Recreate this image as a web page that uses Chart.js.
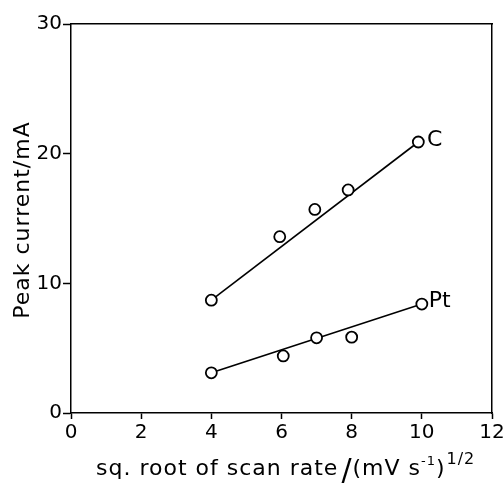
<!DOCTYPE html>
<html>
<head>
<meta charset="utf-8">
<script src="https://cdn.jsdelivr.net/npm/chart.js@4.4.0/dist/chart.umd.min.js"></script>
<style>
  html, body { margin: 0; padding: 0; background: #fff; }
  #wrap { width: 503px; height: 491px; }
</style>
</head>
<body>
<div id="wrap"><canvas id="peakChart" width="503" height="491"></canvas></div>
<script>
// measured points (x = sqrt scan rate, y = peak current / mA)
const cX = [4, 5.95, 6.95, 7.9, 9.9];
const cY = [8.7, 13.6, 15.7, 17.2, 20.9];
const ptX = [4, 6.05, 7, 8, 10];
const ptY = [3.1, 4.4, 5.8, 5.85, 8.4];

// straight-line fits as drawn
const cFitX = [4, 9.9];
const cFitY = [8.7, 20.9];
const ptFitX = [4, 10];
const ptFitY = [3.1, 8.4];

const xTicks = [0, 2, 4, 6, 8, 10, 12];
const yTicks = [0, 10, 20, 30];

const seriesLabels = [
    { text: 'C', x: 10.15, y: 21.0 },
    { text: 'Pt', x: 10.2, y: 8.6 }
];

const FONT = "'DejaVu Sans', sans-serif";

function toPoints(xs, ys) {
    return xs.map((x, i) => ({ x: x, y: ys[i] }));
}

const markerStyle = {
    showLine: false,
    pointStyle: 'circle',
    pointRadius: 5.5,
    pointBorderWidth: 1.8,
    pointBorderColor: '#000',
    pointBackgroundColor: '#fff'
};

const lineStyle = {
    showLine: true,
    borderColor: '#000',
    borderWidth: 1.6,
    pointRadius: 0,
    fill: false
};

// series names, axis titles (with superscripts)
const annotate = {
    id: 'annotate',
    afterDraw(chart) {
        const c = chart.ctx;
        const xs = chart.scales.x, ys = chart.scales.y;
        c.save();
        c.fillStyle = '#000';
        c.font = '22px ' + FONT;
        c.textBaseline = 'middle';
        c.textAlign = 'left';
        seriesLabels.forEach(l => {
            c.fillText(l.text, xs.getPixelForValue(l.x), ys.getPixelForValue(l.y));
        });

        c.letterSpacing = '1px';
        // y axis title
        c.save();
        c.translate(29, 220);
        c.rotate(-Math.PI / 2);
        c.textAlign = 'center';
        c.textBaseline = 'alphabetic';
        c.font = '22px ' + FONT;
        c.fillText('Peak current/mA', 0, 0);
        c.restore();

        // x axis title
        const base = 475;
        let px = 96;
        c.textBaseline = 'alphabetic';
        c.font = '22px ' + FONT;
        const main = 'sq. root of scan rate';
        c.fillText(main, px, base); px += c.measureText(main).width + 3;
        c.font = '30px ' + FONT;
        c.fillText('/', px, base + 5); px += c.measureText('/').width;
        c.font = '22px ' + FONT;
        c.fillText('(mV s', px, base); px += c.measureText('(mV s').width;
        c.font = '13px ' + FONT;
        c.fillText('-1', px, base - 10); px += c.measureText('-1').width;
        c.font = '22px ' + FONT;
        c.fillText(')', px, base); px += c.measureText(')').width + 1;
        c.font = '16px ' + FONT;
        c.fillText('1/2', px, base - 11);
        c.restore();
    }
};

const tickGrid = len => ({
    display: true, drawOnChartArea: false, drawTicks: true,
    tickLength: len, tickColor: '#000', tickWidth: 1.5
});

const ctx = document.getElementById('peakChart').getContext('2d');
const peakChart = new Chart(ctx, {
    type: 'scatter',
    data: {
        datasets: [
            Object.assign({ label: 'C', data: toPoints(cX, cY) }, markerStyle),
            Object.assign({ label: 'C fit', data: toPoints(cFitX, cFitY) }, lineStyle),
            Object.assign({ label: 'Pt', data: toPoints(ptX, ptY) }, markerStyle),
            Object.assign({ label: 'Pt fit', data: toPoints(ptFitX, ptFitY) }, lineStyle)
        ]
    },
    options: {
        responsive: false,
        animation: false,
        layout: { padding: { top: 24, right: 11, left: 0, bottom: 0 } },
        plugins: {
            legend: { display: false },
            tooltip: { enabled: false }
        },
        scales: {
            x: {
                type: 'linear',
                min: 0, max: 12,
                afterBuildTicks: s => { s.ticks = xTicks.map(v => ({ value: v })); },
                afterFit: s => { s.height = 78; s.paddingRight = 0; s.paddingLeft = 0; },
                grid: tickGrid(6),
                border: { color: '#000', width: 1.5 },
                ticks: { color: '#000', font: { family: FONT, size: 20 }, padding: 2, maxRotation: 0 }
            },
            y: {
                type: 'linear',
                min: 0, max: 30,
                afterBuildTicks: s => { s.ticks = yTicks.map(v => ({ value: v })); },
                afterFit: s => { s.width = 71; },
                grid: tickGrid(8),
                border: { color: '#000', width: 1.5 },
                ticks: { color: '#000', font: { family: FONT, size: 20 }, padding: 1 }
            },
            xTop: { type: 'linear', position: 'top', min: 0, max: 12, display: true,
                ticks: { display: false }, grid: { display: false, drawTicks: false },
                border: { color: '#000', width: 1.5 }, afterFit: s => { s.height = 0; } },
            yRight: { type: 'linear', position: 'right', min: 0, max: 30, display: true,
                ticks: { display: false }, grid: { display: false, drawTicks: false },
                border: { color: '#000', width: 1.5 }, afterFit: s => { s.width = 0; } }
        }
    },
    plugins: [annotate]
});
</script>
</body>
</html>
